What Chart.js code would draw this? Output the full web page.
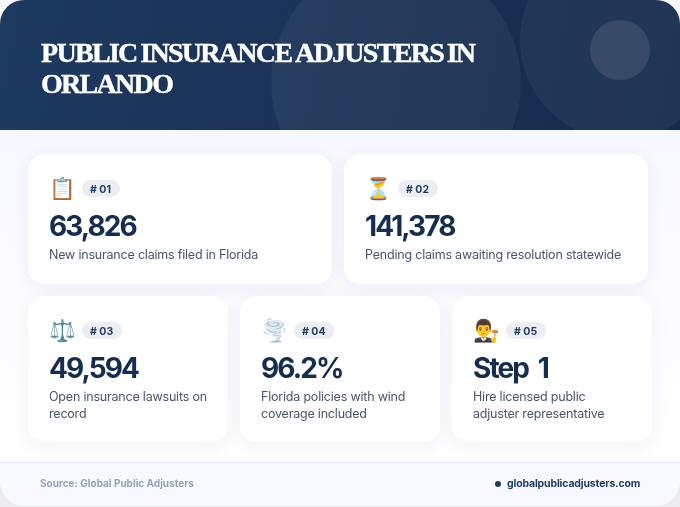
<!DOCTYPE html>
<html>
<head>
<meta charset="utf-8">
<title>Public Insurance Adjusters in Orlando</title>
<script src="https://cdn.jsdelivr.net/npm/chart.js@4"></script>
<style>
    html, body { margin: 0; padding: 0; background: linear-gradient(#f8f8f8, #ececee); }
    canvas { display: block; }
</style>
</head>
<body>
<canvas id="statsChart" width="680" height="507"></canvas>
<script>
// Values
const titleLines = ["PUBLIC INSURANCE ADJUSTERS IN", "ORLANDO"];
const ranks = ["# 01", "# 02", "# 03", "# 04", "# 05"];
const icons = ["\u{1F4CB}", "\u23F3", "\u2696\uFE0F", "\u{1F32A}\uFE0F", "\u{1F468}\u200D\u2696\uFE0F"];
const statValues = ["63,826", "141,378", "49,594", "96.2%", "Step 1"];
const captions = [
    ["New insurance claims filed in Florida"],
    ["Pending claims awaiting resolution statewide"],
    ["Open insurance lawsuits on", "record"],
    ["Florida policies with wind", "coverage included"],
    ["Hire licensed public", "adjuster representative"]
];
const sourceText = "Source: Global Public Adjusters";
const siteText = "globalpublicadjusters.com";

const sansFont = "Inter, 'Noto Sans', sans-serif";
const navy = "#162d4e";

function roundedPath(ctx, x, y, w, h, r) {
    ctx.beginPath();
    ctx.roundRect(x, y, w, h, r);
}

function drawText(ctx, text, x, y, font, color, spacing, wordGap) {
    ctx.font = font;
    ctx.fillStyle = color;
    ctx.letterSpacing = (spacing || 0) + "px";
    ctx.wordSpacing = (wordGap || 0) + "px";
    ctx.textBaseline = "alphabetic";
    ctx.textAlign = "left";
    ctx.fillText(text, x, y);
    ctx.letterSpacing = "0px";
    ctx.wordSpacing = "0px";
}

// Header band with its three soft circles
function drawHeader(ctx, w) {
    ctx.save();
    ctx.beginPath();
    ctx.rect(0, 0, w, 130);
    ctx.clip();
    const grad = ctx.createLinearGradient(0, 0, w, 130);
    grad.addColorStop(0, "#1e3a5f");
    grad.addColorStop(1, "#162a4c");
    ctx.fillStyle = grad;
    ctx.fillRect(0, 0, w, 130);
    ctx.fillStyle = "rgba(255,255,255,0.05)";
    ctx.beginPath();
    ctx.arc(396, 83, 125, 0, Math.PI * 2);
    ctx.fill();
    ctx.beginPath();
    ctx.arc(620, 40, 100, 0, Math.PI * 2);
    ctx.fill();
    ctx.fillStyle = "rgba(255,255,255,0.1)";
    ctx.beginPath();
    ctx.arc(620, 50, 30, 0, Math.PI * 2);
    ctx.fill();
    ctx.restore();

    // Thin stroke under the fill to get the weight of the heavy display serif
    titleLines.forEach(function (line, n) {
        const y = 62 + n * 31;
        ctx.letterSpacing = "-1.7px";
        ctx.wordSpacing = "-1.7px";
        ctx.font = "bold 28px 'Liberation Serif'";
        ctx.strokeStyle = "#ffffff";
        ctx.lineWidth = 0.4;
        ctx.strokeText(line, 41, y);
        drawText(ctx, line, 41, y, "bold 28px 'Liberation Serif'", "#ffffff", -1.7, -1.7);
    });
}

function drawCard(ctx, i, box) {
    ctx.save();
    ctx.shadowColor = "rgba(30,58,95,0.06)";
    ctx.shadowBlur = 20;
    ctx.shadowOffsetY = 4;
    ctx.fillStyle = "#ffffff";
    roundedPath(ctx, box.x, box.y, box.w, box.h, 16);
    ctx.fill();
    ctx.restore();

    const left = box.x + 21;
    ctx.textBaseline = "alphabetic";
    ctx.textAlign = "left";
    ctx.font = "21.5px 'Noto Color Emoji', sans-serif";
    ctx.fillStyle = "#000";
    ctx.fillText(icons[i], left + 0.5, box.y + 41.5);

    // Rank pill
    const pillX = box.x + 54;
    const pillY = box.y + 26;
    ctx.font = "bold 10.5px " + sansFont;
    const pillW = ctx.measureText(ranks[i]).width + 17;
    ctx.fillStyle = "#eceef3";
    roundedPath(ctx, pillX, pillY, pillW, 17, 8.5);
    ctx.fill();
    drawText(ctx, ranks[i], pillX + 8, pillY + 12.5, "bold 10.5px " + sansFont, "#1e3a5f", 0);

    drawText(ctx, statValues[i], left, box.y + 81.7, "bold 28px " + sansFont, navy, -1.9, 5);
    captions[i].forEach(function (line, n) {
        drawText(ctx, line, left, box.y + 104.5 + n * 17, "12.5px " + sansFont, "#4a5568", -0.2);
    });
}

const infographicPlugin = {
    id: "infographic",
    beforeDraw: function (chart) {
        const ctx = chart.ctx;
        const w = chart.width;
        ctx.save();
        roundedPath(ctx, 0, 0, w, 506, 24);
        ctx.clip();

        const bodyGrad = ctx.createLinearGradient(0, 130, 0, 462);
        bodyGrad.addColorStop(0, "#f7f7ff");
        bodyGrad.addColorStop(1, "#ffffff");
        ctx.fillStyle = bodyGrad;
        ctx.fillRect(0, 130, w, 332);

        drawHeader(ctx, w);

        const boxes = [
            { x: 28, y: 154, w: 304, h: 130 },
            { x: 344, y: 154, w: 304, h: 130 },
            { x: 28, y: 296, w: 200, h: 146 },
            { x: 240, y: 296, w: 200, h: 146 },
            { x: 452, y: 296, w: 200, h: 146 }
        ];
        boxes.forEach(function (box, i) {
            drawCard(ctx, i, box);
        });

        // Footer strip
        ctx.fillStyle = "#f8f8ff";
        ctx.fillRect(0, 462, w, 45);
        ctx.fillStyle = "#e6e6f8";
        ctx.fillRect(0, 462, w, 1);
        drawText(ctx, sourceText, 40, 487, "bold 10px " + sansFont, "#94a3b8", 0);
        ctx.fillStyle = "#1e3a5f";
        ctx.beginPath();
        ctx.arc(498, 484, 3, 0, Math.PI * 2);
        ctx.fill();
        drawText(ctx, siteText, 507, 487, "bold 10.5px " + sansFont, "#1e3a5f", -0.16);
        ctx.restore();
    }
};

new Chart(document.getElementById("statsChart"), {
    type: "bar",
    data: { labels: ranks, datasets: [] },
    options: {
        responsive: false,
        animation: false,
        plugins: { legend: { display: false }, tooltip: { enabled: false } },
        scales: { x: { display: false }, y: { display: false } }
    },
    plugins: [infographicPlugin]
});
</script>
</body>
</html>
